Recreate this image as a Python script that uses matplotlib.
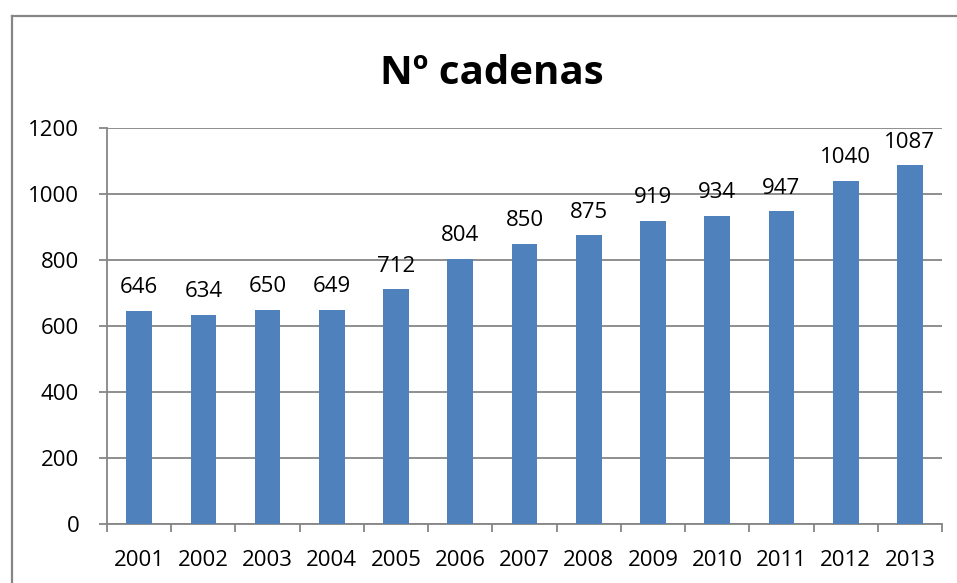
import numpy as np
import matplotlib.pyplot as plt
from matplotlib.lines import Line2D

years = ["2001", "2002", "2003", "2004", "2005", "2006", "2007",
         "2008", "2009", "2010", "2011", "2012", "2013"]
cadenas = [646, 634, 650, 649, 712, 804, 850, 875, 919, 934, 947, 1040, 1087]

plt.rcParams["font.family"] = ["Open Sans", "DejaVu Sans"]

W, H = 957, 583
fig = plt.figure(figsize=(W / 100, H / 100), dpi=100)
ax = fig.add_axes([107 / W, 1 - 524 / H, (942 - 107) / W, (524 - 128) / H])

x = np.arange(len(years))
ax.bar(x, cadenas, width=0.4, color="#4F81BD", zorder=3)

for xi, v in zip(x, cadenas):
    ax.annotate(str(v), (xi, v), xytext=(0, 9), textcoords="offset points",
                ha="center", va="bottom", fontsize=16)

ax.set_xlim(-0.5, len(years) - 0.5)
ax.set_ylim(0, 1200)
ax.set_yticks(range(0, 1201, 200))
ax.set_xticks(x)
ax.set_xticklabels(years)
ax.set_xticks(np.arange(-0.5, len(years)), minor=True)
ax.tick_params(axis="x", which="major", length=0, labelsize=16, pad=19)
ax.tick_params(axis="x", which="minor", length=6, color="#868686", width=1.3)
ax.tick_params(axis="y", length=6, color="#868686", width=1.3, labelsize=16, pad=14)
ax.grid(axis="y", color="#868686", linewidth=1.3, zorder=0)

for s in ["top", "right"]:
    ax.spines[s].set_visible(False)
for s in ["left", "bottom"]:
    ax.spines[s].set_color("#868686")
    ax.spines[s].set_linewidth(1.3)

fig.text(492 / W, 1 - 73 / H, "Nº cadenas", ha="center", va="center",
         fontsize=29, fontweight="bold")

# outer chart border
bx, by = 12 / W, 1 - 16 / H
fig.add_artist(Line2D([bx, bx], [0, by], color="#868686", linewidth=1.6))
fig.add_artist(Line2D([bx, 1], [by, by], color="#868686", linewidth=1.6))

fig.savefig("out.png", dpi=100)
